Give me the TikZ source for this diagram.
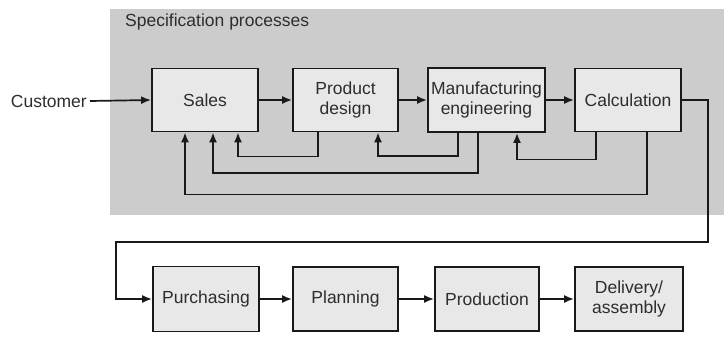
\documentclass[tikz,border=0pt]{standalone}
\usepackage{fontspec}
\setmainfont{Liberation Sans}
\usetikzlibrary{arrows.meta}
\definecolor{specgray}{RGB}{204,204,204}
\definecolor{boxfill}{RGB}{232,232,232}
\definecolor{ink}{RGB}{25,25,25}
\definecolor{txt}{RGB}{45,45,45}
\begin{document}
\begin{tikzpicture}[x=1pt,y=-1pt,
  proc/.style={draw=ink,line width=1.8pt,fill=boxfill,minimum height=63pt,
    align=center,inner sep=1pt,text=txt,font=\fontsize{17.5}{20}\selectfont},
  arr/.style={draw=ink,line width=1.7pt,-{Latex[length=10pt,width=8pt]}},
  lbl/.style={text=txt,font=\fontsize{17.5}{20}\selectfont,inner sep=0pt}]
\useasboundingbox (0,0) rectangle (724,338);
\fill[specgray] (110,9) rectangle (724,215);
\node[lbl,anchor=west] (title) at (125,22) {Specification processes};
\node[lbl,anchor=east] (cust) at (87,101) {Customer};
% top row
\node[proc,minimum width=106pt] (sales) at (205,100) {Sales};
\node[proc,minimum width=105pt] (pd) at (345.5,100) {Product\\design};
\node[proc,minimum width=117pt,minimum height=64pt] (me) at (486.5,100) {Manufacturing\\engineering};
\node[proc,minimum width=106pt] (calc) at (628,100) {Calculation};
% bottom row
\node[proc,minimum width=106pt,minimum height=65pt] (purch) at (206,299) {Purchasing};
\node[proc,minimum width=105pt,minimum height=64pt] (plan) at (345.5,299) {Planning};
\node[proc,minimum width=104pt,minimum height=64pt] (prod) at (487,299) {Production};
\node[proc,minimum width=108pt,minimum height=64pt] (deliv) at (629,299) {Delivery/\\assembly};
% forward arrows
\draw[arr] ([xshift=3pt]cust.east) -- (sales.west);
\draw[arr] (sales) -- (pd);
\draw[arr] (pd) -- (me);
\draw[arr] (me) -- (calc);
\draw[arr] (purch) -- (plan);
\draw[arr] (plan) -- (prod);
\draw[arr] (prod) -- (deliv);
% feedback
\draw[arr] ([xshift=-27.5pt]pd.south) -- ++(0,24) -| ([xshift=33pt]sales.south);
\draw[arr] ([xshift=-8.5pt]me.south) -- ++(0,40) -| ([xshift=8pt]sales.south);
\draw[arr] ([xshift=19pt]calc.south) -- ++(0,62) -| ([xshift=-20pt]sales.south);
\draw[arr] ([xshift=-28.5pt]me.south) -- ++(0,23) -| ([xshift=32.5pt]pd.south);
\draw[arr] ([xshift=-32pt]calc.south) -- ++(0,27) -| ([xshift=30.5pt]me.south);
% calc to purchasing
\coordinate (c1) at (708,242);
\coordinate (c2) at (116,242);
\draw[arr] (calc.east) -| (c1) -- (c2) |- (purch.west);
\end{tikzpicture}
\end{document}
